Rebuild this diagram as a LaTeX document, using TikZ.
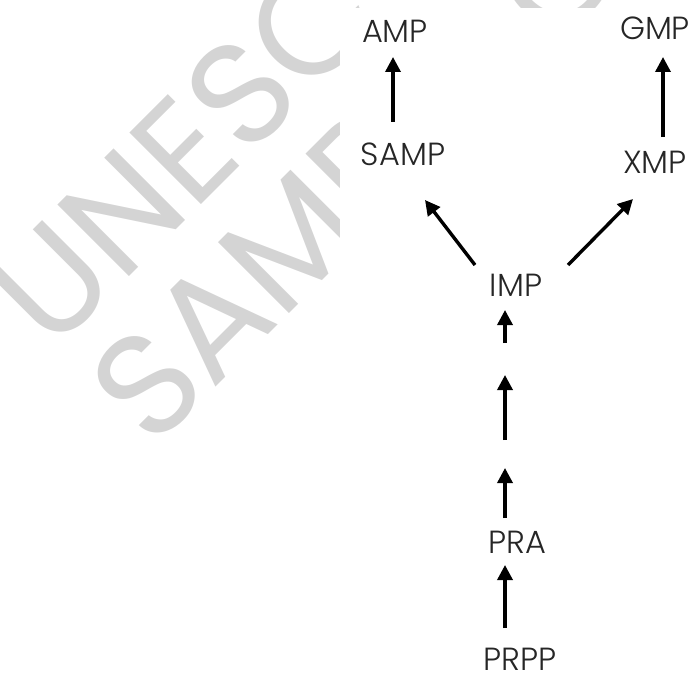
\documentclass[tikz,border=0pt]{standalone}
\usepackage{fontspec}
\setmainfont{Poppins}[UprightFont={* Light}]
\newfontfamily\markfont{Poppins}
\usetikzlibrary{arrows.meta,calc}
\definecolor{markgray}{RGB}{212,212,212}
\tikzset{
  cmpd/.style={inner sep=0pt, text height=22pt, text depth=0pt, text=black!85,
    font=\fontsize{32}{32}\selectfont},
  flow/.style={line width=3.4pt, -{Triangle[length=15pt,width=15pt]}},
  wmark/.style={rotate=45, anchor=base west, inner sep=0pt, text=markgray,
    font=\markfont\fontsize{145}{145}\selectfont}
}
\begin{document}
\begin{tikzpicture}[x=1pt,y=-1pt]
  \useasboundingbox (0,0) rectangle (690,674);
  % watermark behind the scheme
  \node[wmark] (mark1) at (52,354) {UNESCO – EOLSS};
  \node[wmark] (mark2) at (152,451) {SAMPLE CHAPTERS};
  \fill[white] (340,8) rectangle (690,674);

  \node[cmpd] (AMP)  at (395,31.5)  {AMP};
  \node[cmpd] (GMP)  at (655,29)    {GMP};
  \node[cmpd] (SAMP) at (403,154.5) {SAMP};
  \node[cmpd] (XMP)  at (655,162.5) {XMP};
  \node[cmpd] (IMP)  at (516,285)   {IMP};
  \node[cmpd] (PRA)  at (517.5,542.5) {PRA};
  \node[cmpd] (PRPP) at (520,659)   {PRPP};

  % unnamed steps between PRA and IMP
  \coordinate (step1) at (505,454);
  \coordinate (step2) at (505,359);

  \foreach \from/\fx/\fy/\to/\tx/\ty in {SAMP/-10/-32.5/AMP/-2/25.5,
      XMP/8/-25.5/GMP/8/28, IMP/-41/-20/SAMP/22/45.5, IMP/52/-20/XMP/-22/36.5,
      PRPP/-15/-31/PRA/-12.5/22.5, PRA/-12.5/-24.5/step1/0/14,
      step1/0/-14/step2/0/16, step2/0/-16/IMP/-11/25}
    \draw[flow] ($(\from)+(\fx,\fy)$) -- ($(\to)+(\tx,\ty)$);
\end{tikzpicture}
\end{document}
